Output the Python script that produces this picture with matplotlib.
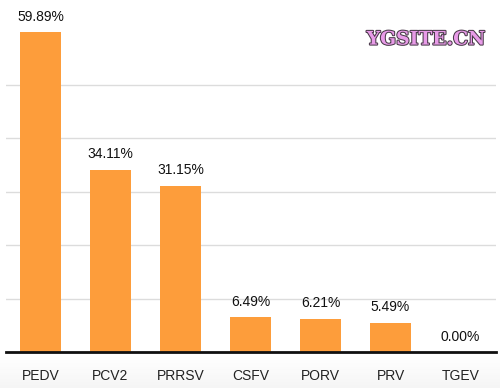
import matplotlib
matplotlib.use("Agg")
import matplotlib.pyplot as plt
import matplotlib.patheffects as pe
import numpy as np

categories = ["PEDV", "PCV2", "PRRSV", "CSFV", "PORV", "PRV", "TGEV"]
values = [59.89, 34.11, 31.15, 6.49, 6.21, 5.49, 0.00]
labels = ["59.89%", "34.11%", "31.15%", "6.49%", "6.21%", "5.49%", "0.00%"]

plt.rcParams['font.family'] = ['Liberation Sans', 'DejaVu Sans']

fig = plt.figure(figsize=(5.0, 3.88), dpi=100)

# very subtle bottom gradient band
gax = fig.add_axes([0, 0, 1, 0.08], zorder=0)
grad = np.linspace(0.0, 1.0, 50).reshape(-1, 1)
gax.imshow(grad, aspect='auto', cmap='Greys', vmin=0, vmax=12, extent=[0, 1, 0, 1],
           origin='upper')
gax.axis('off')

ax = fig.add_axes([5.5/500, 1 - 352/388, 490/500, 352/388], zorder=1)
ax.patch.set_alpha(0)
x = np.arange(len(categories))
ax.bar(x, values, width=0.586, color='#FD9D3B', zorder=2)
ax.set_xlim(-0.5, len(categories) - 0.5)
ax.set_ylim(0, 65.9)
ax.set_yticks([10, 20, 30, 40, 50])
ax.yaxis.grid(True, color='#dcdcdc', linewidth=1)
ax.set_axisbelow(True)
ax.tick_params(axis='y', left=False, labelleft=False)
ax.tick_params(axis='x', bottom=False, labelsize=10, pad=9, labelcolor='#222222')
ax.set_xticks(x)
ax.set_xticklabels(categories)
for s in ['top', 'right', 'left']:
    ax.spines[s].set_visible(False)
ax.spines['bottom'].set_linewidth(2)
ax.spines['bottom'].set_color('#111111')
ax.spines['bottom'].set_zorder(3)

for xi, v, lab in zip(x, values, labels):
    ax.annotate(lab, (xi, v), xytext=(0, 6), textcoords='offset points',
                ha='center', va='bottom', fontsize=10, color='#111111')

fig.text(0.852, 0.898, "YGSITE.CN", ha='center', va='center', fontsize=13.5,
         family=['DejaVu Serif'], fontweight='bold',
         color='#E89BE8',
         path_effects=[pe.withStroke(linewidth=1.5, foreground='#4a3a4a')])

fig.savefig("out.png", dpi=100)
